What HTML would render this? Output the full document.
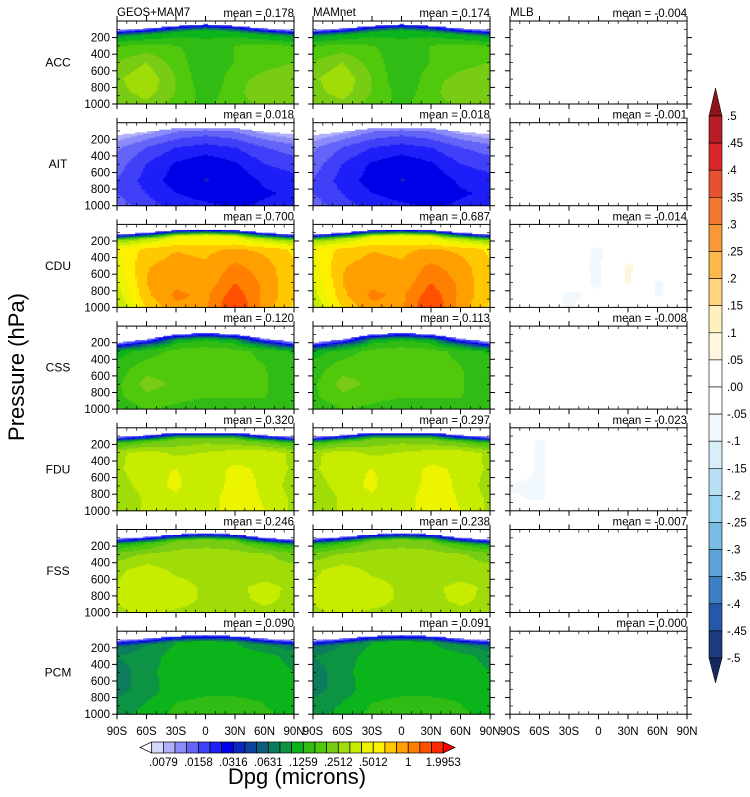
<!DOCTYPE html>
<html><head><meta charset="utf-8"><style>
html,body{margin:0;padding:0;background:#fff;}
svg{display:block;font-family:"Liberation Sans",sans-serif;}
</style></head><body>
<svg id="chart" width="750" height="797" viewBox="0 0 750 797" xmlns="http://www.w3.org/2000/svg">
<g id="fields"></g><g id="axes"></g><g id="labels"></g><g id="cbars"></g>
</svg>
<script>
// ---- data ----
const variables = ["ACC","AIT","CDU","CSS","FDU","FSS","PCM"];
const columns = ["GEOS+MAM7","MAMnet","MLB"];
const meansGeos = ["0.178","0.018","0.700","0.120","0.320","0.246","0.090"];
const meansMamnet = ["0.174","0.018","0.687","0.113","0.297","0.238","0.091"];
const meansMlb = ["-0.004","-0.001","-0.014","-0.008","-0.023","-0.007","0.000"];
const lats = [-90,-60,-30,0,30,60,90];
const xTickLabels = ["90S","60S","30S","0","30N","60N","90N"];
const yTickValues = [200,400,600,800,1000];
// level rows: [top, top+70, 300, 500, 700, 850, 1000] hPa
const topACC = [110,90,60,40,60,90,110];
const topAIT = [150,110,70,60,70,110,140];
const topCDU = [120,100,70,60,70,100,120];
const topCSS = [200,160,100,85,100,150,190];
const topFDU = [110,90,60,60,60,90,110];
const topFSS = [110,90,60,50,60,100,120];
const topPCM = [110,90,60,50,60,90,110];
const dpgACC = [[.01,.012,.016,.016,.016,.012,.01],[.09,.1,.11,.11,.11,.1,.09],[.16,.17,.16,.14,.16,.17,.16],[.2,.25,.18,.13,.16,.18,.2],[.24,.3,.2,.13,.18,.22,.24],[.23,.28,.2,.14,.18,.25,.24],[.2,.24,.18,.15,.18,.21,.2]];
const dpgAIT = [[.008,.009,.011,.011,.011,.009,.008],[.01,.012,.014,.015,.014,.012,.011],[.012,.016,.02,.022,.02,.016,.014],[.014,.02,.026,.03,.026,.02,.018],[.016,.022,.028,.032,.03,.024,.022],[.016,.02,.025,.028,.03,.026,.024],[.014,.018,.022,.024,.026,.024,.022]];
const dpgCDU = [[.01,.012,.016,.016,.016,.012,.01],[.25,.3,.4,.42,.4,.3,.25],[.5,.68,.78,.75,.82,.75,.6],[.45,.78,.88,.82,1.05,.88,.65],[.4,.8,.95,.85,1.25,.95,.65],[.35,.75,1.05,.95,1.45,.95,.65],[.3,.65,.95,.95,1.65,.9,.6]];
const dpgCSS = [[.009,.01,.013,.015,.013,.01,.009],[.06,.07,.11,.12,.11,.07,.06],[.11,.14,.17,.18,.17,.15,.12],[.14,.18,.19,.18,.17,.16,.14],[.15,.22,.19,.17,.17,.16,.15],[.15,.19,.17,.16,.16,.16,.14],[.13,.16,.15,.14,.15,.15,.13]];
const dpgFDU = [[.01,.012,.016,.016,.016,.012,.01],[.15,.18,.2,.22,.2,.18,.15],[.3,.35,.3,.32,.35,.36,.3],[.3,.38,.4,.35,.42,.38,.3],[.28,.35,.42,.32,.45,.38,.28],[.26,.33,.38,.33,.5,.38,.3],[.26,.33,.36,.32,.5,.4,.3]];
const dpgFSS = [[.01,.012,.016,.016,.016,.012,.01],[.12,.15,.2,.22,.2,.15,.12],[.22,.26,.28,.28,.28,.26,.22],[.3,.36,.3,.28,.28,.28,.28],[.32,.38,.36,.3,.3,.34,.3],[.32,.38,.36,.3,.3,.33,.3],[.3,.34,.3,.28,.28,.3,.3]];
const dpgPCM = [[.01,.012,.016,.016,.016,.012,.01],[.06,.08,.1,.11,.1,.08,.07],[.08,.09,.11,.12,.12,.11,.09],[.07,.09,.12,.12,.12,.12,.1],[.075,.085,.12,.12,.12,.12,.11],[.08,.1,.125,.13,.13,.125,.11],[.09,.11,.135,.145,.14,.13,.12]];
const mamACC = dpgACC, mamAIT = dpgAIT, mamCDU = dpgCDU, mamCSS = dpgCSS, mamFDU = dpgFDU, mamFSS = dpgFSS, mamPCM = dpgPCM;
const zero7 = [0,0,0,0,0,0,0];
const diffACC = [zero7,zero7,zero7,zero7,zero7,zero7,zero7];
const diffAIT = diffACC, diffCSS = diffACC, diffFSS = diffACC, diffPCM = diffACC;
const diffCDU = [[0,0,0,0,0,0,0],[0,0,0,0,0,0,0],[0,0,-.02,-.06,0,0,0],[0,0,-.03,-.06,.06,0,0],[0,0,-.02,-.06,.06,-.06,0],[0,-.02,-.06,-.04,.02,-.06,0],[0,0,-.06,0,0,0,0]];
const diffFDU = [[0,0,0,0,0,0,0],[0,-.06,0,0,0,0,0],[0,-.06,0,0,0,0,0],[0,-.06,0,0,0,0,0],[-.06,-.06,0,0,0,0,0],[-.04,-.06,0,0,0,0,0],[0,0,0,0,0,0,0]];
const dpgLevels = [".0079",".0158",".0316",".0631",".1259",".2512",".5012","1","1.9953"];
const diffLabels = [".5",".45",".4",".35",".3",".25",".2",".15",".1",".05",".00","-.05","-.1","-.15","-.2","-.25","-.3","-.35","-.4","-.45","-.5"];

const tops = [topACC,topAIT,topCDU,topCSS,topFDU,topFSS,topPCM];
const geos = [dpgACC,dpgAIT,dpgCDU,dpgCSS,dpgFDU,dpgFSS,dpgPCM];
const mam = [mamACC,mamAIT,mamCDU,mamCSS,mamFDU,mamFSS,mamPCM];
const diffs = [diffACC,diffAIT,diffCDU,diffCSS,diffFDU,diffFSS,diffPCM];

// ---- styling ----
const dpgColors = ["#d8d8fc","#b0b0fa","#8c8cf8","#6464f8","#4040f8","#1e1ef8","#0000e8","#0a28c0","#0a44a0","#0c5c80","#0c7c5c","#0c9444","#0cb41c","#30bc14","#50c80c","#78cc14","#a0dc08","#c8ec00","#ecf400","#fff000","#ffc800","#ffa000","#ff8000","#ff5000","#ff2800"];
const diffColors = ["#b81c24","#d8282c","#e85030","#f07830","#f89838","#fcb848","#fed480","#fff0c0","#fff6e0","#ffffff","#ffffff","#f0f8fe","#d8eef8","#b8e0f4","#98d4f0","#78bce4","#5ca4d8","#3c80c4","#2458a8","#1c3c80"];
const colX = [117,313,510], PW = 177, PH = 83;
function rowY(i){ return 21 + 101.7*i; }
function xScale(c, lat){ return colX[c] + (lat+90)/180*PW; }
function yScale(r, p){ return rowY(r) + p/1000*PH; }
const NS = "http://www.w3.org/2000/svg";
function mk(tag, attrs, parent){ const e=document.createElementNS(NS,tag); for(const k in attrs) e.setAttribute(k,attrs[k]); parent.appendChild(e); return e; }

function colorDpg(v){ if(v==null) return null; let c=Math.floor((Math.log10(v)+2.2)*10); if(c<0) return "#ffffff"; if(c>24) return "#ff0000"; return dpgColors[c]; }
function colorDiff(v){ if(v==null) return null; let c=Math.floor((0.5-v)/0.05); if(c<0) c=0; if(c>19) c=19; return diffColors[c]; }

function sample(grid, top, lat, p, isLog){
  let j=0; while(j<lats.length-2 && lat>lats[j+1]) j++;
  const t=(lat-lats[j])/(lats[j+1]-lats[j]);
  const tp = top[j]*(1-t)+top[j+1]*t;
  if(p<tp) return null;
  function col(k){
    const lv=[top[k],Math.min(top[k]+70,280),300,500,700,850,1000];
    const pp = p<lv[0]?lv[0]:p;
    let i=0; while(i<lv.length-2 && pp>lv[i+1]) i++;
    const s=Math.min(1,Math.max(0,(pp-lv[i])/(lv[i+1]-lv[i])));
    const a=grid[i][k], b=grid[i+1][k];
    return isLog ? Math.log10(a)*(1-s)+Math.log10(b)*s : a*(1-s)+b*s;
  }
  const v=col(j)*(1-t)+col(j+1)*t;
  return isLog?Math.pow(10,v):v;
}

const fields=document.getElementById("fields");
const nx=88, ny=60;
for(let r=0;r<7;r++){
  for(let c=0;c<3;c++){
    const g=mk("g",{},fields);
    
    
    for(let iy=0;iy<ny;iy++){
      const p0=iy*1000/ny, p1=(iy+1)*1000/ny, pm=(p0+p1)/2;
      let runStart=0, runCol=null;
      for(let ix=0;ix<=nx;ix++){
        let col=null;
        if(ix<nx){
          const lat=-90+(ix+0.5)*180/nx;
          if(c<2){ col=colorDpg(sample(c===0?geos[r]:mam[r], tops[r], lat, pm, true)); }
          else { const v=sample(diffs[r], tops[r], lat, pm, false); col=v==null?null:colorDiff(v); }
        }
        if(ix===nx || col!==runCol){
          if(runCol && runCol!=="#ffffff"){
            const x0=xScale(c,-90+runStart*180/nx), x1=xScale(c,-90+ix*180/nx);
            const rc=mk("rect",{x:x0.toFixed(2),y:yScale(r,p0).toFixed(2),width:(x1-x0+0.4).toFixed(2),height:(PH/ny+0.4).toFixed(2),fill:runCol},g);
            
            
          }
          runStart=ix; runCol=col;
        }
      }
    }
  }
}

// ---- axes ----
const axes=document.getElementById("axes");
for(let r=0;r<7;r++){
  for(let c=0;c<3;c++){
    const g=mk("g",{stroke:"#000","stroke-width":"1",fill:"none"},axes);
    
    
    const x0=colX[c], y0=rowY(r), x1=x0+PW, y1=y0+PH;
    mk("rect",{x:x0,y:y0,width:PW,height:PH},g);
    for(let lat=-90;lat<=90;lat+=10){
      const x=xScale(c,lat), major=(lat%30===0);
      if(major){ mk("line",{x1:x,x2:x,y1:y1,y2:y1+5},g); mk("line",{x1:x,x2:x,y1:y0,y2:y0-5},g); }
      else { mk("line",{x1:x,x2:x,y1:y1,y2:y1-3,"stroke-width":0.7},g); mk("line",{x1:x,x2:x,y1:y0,y2:y0+3,"stroke-width":0.7},g); }
    }
    for(let p=100;p<=1000;p+=100){
      const y=yScale(r,p), major=(p%200===0);
      if(major){ mk("line",{x1:x0-5,x2:x0,y1:y,y2:y},g); mk("line",{x1:x1,x2:x1+5,y1:y,y2:y},g); }
      else { mk("line",{x1:x0,x2:x0+3,y1:y,y2:y,"stroke-width":0.7},g); mk("line",{x1:x1-3,x2:x1,y1:y,y2:y,"stroke-width":0.7},g); }
    }
  }
}

// ---- labels ----
const L=document.getElementById("labels");
function txt(s,attrs,name){ const t=mk("text",Object.assign({fill:"#000"},attrs),L); t.textContent=s;   return t; }
const means=[meansGeos,meansMamnet,meansMlb];
for(let c=0;c<3;c++) txt(columns[c],{x:colX[c],y:16,"font-size":11.5},"column-title");
for(let r=0;r<7;r++){
  txt(variables[r],{x:58,y:rowY(r)+PH/2+4,"font-size":12,"text-anchor":"middle"},"row-label");
  for(let c=0;c<3;c++) txt("mean = "+means[c][r],{x:colX[c]+PW,y:rowY(r)-4,"font-size":11.5,"text-anchor":"end"},"mean-label");
  for(const p of yTickValues) txt(String(p),{x:110,y:yScale(r,p)+4,"font-size":11.5,"text-anchor":"end"},"y-tick-label");
}
for(let c=0;c<3;c++) lats.forEach((lat,i)=>{
  txt(xTickLabels[i],{x:xScale(c,lat),y:735,"font-size":11.5,"text-anchor":"middle"},"x-tick-label");
});
txt("Pressure (hPa)",{x:0,y:0,"font-size":22,"text-anchor":"middle",transform:"translate(24,367) rotate(-90)"},"y-axis-title");
txt("Dpg (microns)",{x:297,y:784,"font-size":22,"text-anchor":"middle"},"colorbar-title");

// ---- colorbars ----
const CB=document.getElementById("cbars");
const bx0=151.7, bw=11.66, by0=742, bh=11;
let t=mk("polygon",{points:`${bx0},${by0} ${bx0},${by0+bh} 140,${by0+bh/2}`,fill:"#fff",stroke:"#000","stroke-width":0.7},CB);
 
dpgColors.forEach((col,i)=>{
  const rc=mk("rect",{x:bx0+i*bw,y:by0,width:bw,height:bh,fill:col,stroke:"#000","stroke-width":0.7},CB);
   
});
t=mk("polygon",{points:`${bx0+25*bw},${by0} ${bx0+25*bw},${by0+bh} 455,${by0+bh/2}`,fill:"#ff0000",stroke:"#000","stroke-width":0.7},CB);
 
dpgLevels.forEach((s,i)=>{
  const tt=mk("text",{x:bx0+(1+3*i)*bw,y:766,"font-size":11.5,"text-anchor":"middle"},CB); tt.textContent=s;
   
});
// right diff colorbar
const rx0=709, rw=13, ry0=116, rh=27.1;
t=mk("polygon",{points:`${rx0},${ry0} ${rx0+rw},${ry0} ${rx0+rw/2},88`,fill:"#8c1418",stroke:"#000","stroke-width":0.5},CB);
 
diffColors.forEach((col,i)=>{
  const rc=mk("rect",{x:rx0,y:ry0+i*rh,width:rw,height:rh,fill:col,stroke:"#000","stroke-width":0.6},CB);
   
});
t=mk("polygon",{points:`${rx0},${ry0+20*rh} ${rx0+rw},${ry0+20*rh} ${rx0+rw/2},683`,fill:"#14285c",stroke:"#000","stroke-width":0.5},CB);
 
diffLabels.forEach((s,i)=>{
  const tt=mk("text",{x:727,y:ry0+i*rh+4,"font-size":11.5},CB); tt.textContent=s;
   
});
</script>
</body></html>
